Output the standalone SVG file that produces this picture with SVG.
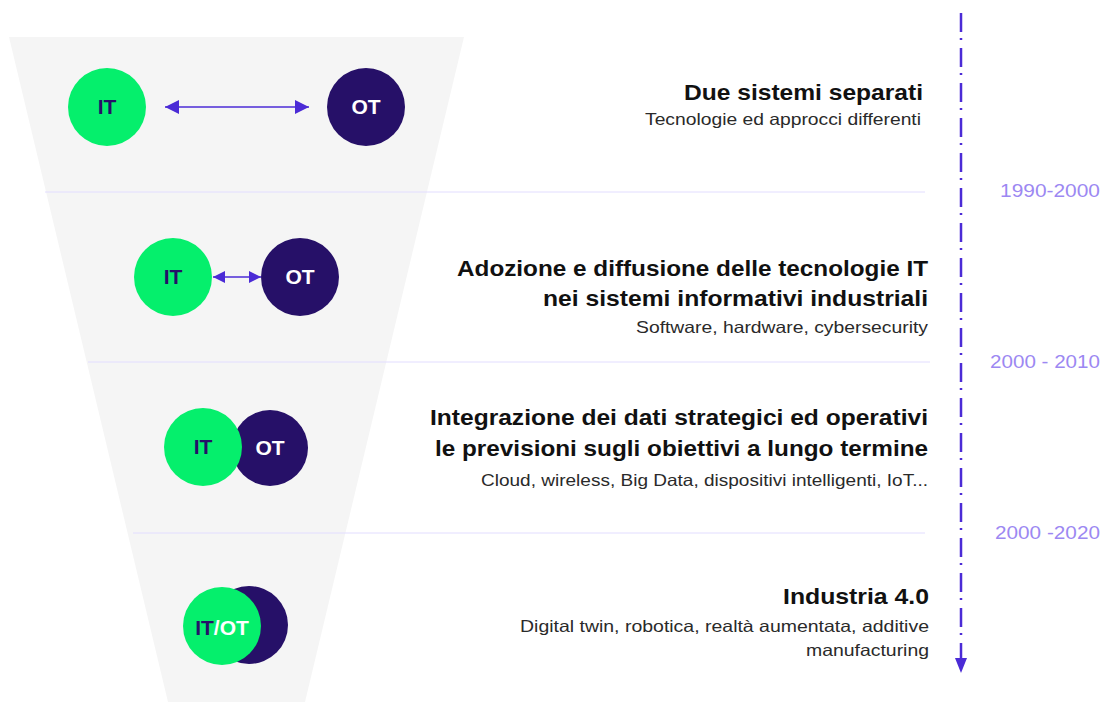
<svg xmlns="http://www.w3.org/2000/svg" width="1107" height="702" viewBox="0 0 1107 702">
  <style>
    .funnel { fill: #f5f5f5; }
    .sep { stroke: #e2ddff; stroke-width: 1; }
    .it { fill: #05ef6c; }
    .ot { fill: #261068; }
    .lbl { font-family: "Liberation Sans", Arial, sans-serif; font-weight: bold; font-size: 21px; text-anchor: middle; }
    .lbl-it { fill: #261068; }
    .lbl-ot { fill: #ffffff; }
    .title { font-family: "Liberation Sans", Arial, sans-serif; font-weight: bold; font-size: 22px; fill: #111111; text-anchor: end; }
    .sub { font-family: "Liberation Sans", Arial, sans-serif; font-size: 16.5px; fill: #2a2a2a; text-anchor: end; }
    .year { font-family: "Liberation Sans", Arial, sans-serif; font-size: 18px; fill: #9c88f2; }
    .link { stroke: #4b2bd6; stroke-width: 1.6; fill: none; }
    .timeline { stroke: #4b2bd6; stroke-width: 2.5; fill: none; stroke-dasharray: 19 6 2 8; }
  </style>
  <defs>
    <marker id="arrow" viewBox="0 0 10 10" refX="10" refY="5" markerWidth="12" markerHeight="12" markerUnits="userSpaceOnUse" orient="auto-start-reverse">
      <path d="M0,0 L10,5 L0,10 Z" fill="#4b2bd6"/>
    </marker>
    <marker id="arrow-lg" viewBox="0 0 10 10" refX="10" refY="5" markerWidth="14" markerHeight="14" markerUnits="userSpaceOnUse" orient="auto-start-reverse">
      <path d="M0,0 L10,5 L0,10 Z" fill="#4b2bd6"/>
    </marker>
  </defs>

  <!-- funnel background -->
  <polygon class="funnel" points="9,37 464,37 305,702 168,702"/>

  <!-- stage separators -->
  <line class="sep" x1="45" y1="192" x2="925" y2="192"/>
  <line class="sep" x1="88" y1="362" x2="930" y2="362"/>
  <line class="sep" x1="133" y1="533" x2="925" y2="533"/>

  <!-- connectors -->
  <g id="connectors">
    <line class="link" x1="165" y1="107" x2="309" y2="107" marker-start="url(#arrow-lg)" marker-end="url(#arrow-lg)"/>
    <line class="link" x1="213" y1="277" x2="261" y2="277" marker-start="url(#arrow)" marker-end="url(#arrow)"/>
    <line class="timeline" x1="961" y1="13" x2="961" y2="662"/>
    <path d="M955,658 L967,658 L961,673 Z" fill="#4b2bd6"/>
  </g>

  <!-- stage 1 -->
  <g id="stage1-it">
    <circle class="it" cx="107" cy="107" r="39"/>
    <text class="lbl lbl-it" x="107" y="114">IT</text>
  </g>
  <g id="stage1-ot">
    <circle class="ot" cx="366" cy="107" r="39"/>
    <text class="lbl lbl-ot" x="366" y="114">OT</text>
  </g>
  <g id="stage1-text">
    <text class="title" x="923" y="100" textLength="239" lengthAdjust="spacingAndGlyphs">Due sistemi separati</text>
    <text class="sub" x="921" y="125" textLength="276" lengthAdjust="spacingAndGlyphs">Tecnologie ed approcci differenti</text>
  </g>

  <!-- stage 2 -->
  <g id="stage2-it">
    <circle class="it" cx="173" cy="277" r="39"/>
    <text class="lbl lbl-it" x="173" y="284">IT</text>
  </g>
  <g id="stage2-ot">
    <circle class="ot" cx="300" cy="277" r="39"/>
    <text class="lbl lbl-ot" x="300" y="284">OT</text>
  </g>
  <g id="stage2-text">
    <text class="title" x="928" y="276" textLength="471" lengthAdjust="spacingAndGlyphs">Adozione e diffusione delle tecnologie IT</text>
    <text class="title" x="928" y="306" textLength="385" lengthAdjust="spacingAndGlyphs">nei sistemi informativi industriali</text>
    <text class="sub" x="928" y="333" textLength="292" lengthAdjust="spacingAndGlyphs">Software, hardware, cybersecurity</text>
  </g>

  <!-- stage 3 -->
  <g id="stage3-ot">
    <circle class="ot" cx="270" cy="448" r="38"/>
    <text class="lbl lbl-ot" x="270" y="455">OT</text>
  </g>
  <g id="stage3-it">
    <circle class="it" cx="203" cy="447" r="39"/>
    <text class="lbl lbl-it" x="203" y="454">IT</text>
  </g>
  <g id="stage3-text">
    <text class="title" x="928" y="425" textLength="498" lengthAdjust="spacingAndGlyphs">Integrazione dei dati strategici ed operativi</text>
    <text class="title" x="928" y="456" textLength="493" lengthAdjust="spacingAndGlyphs">le previsioni sugli obiettivi a lungo termine</text>
    <text class="sub" x="928" y="486" textLength="447" lengthAdjust="spacingAndGlyphs">Cloud, wireless, Big Data, dispositivi intelligenti, IoT...</text>
  </g>

  <!-- stage 4 -->
  <g id="stage4-itot">
    <circle class="ot" cx="249" cy="625" r="39"/>
    <circle class="it" cx="222" cy="626" r="39"/>
    <text class="lbl" x="222" y="635"><tspan class="lbl-it">IT</tspan><tspan class="lbl-ot">/OT</tspan></text>
  </g>
  <g id="stage4-text">
    <text class="title" x="929" y="604" textLength="146" lengthAdjust="spacingAndGlyphs">Industria 4.0</text>
    <text class="sub" x="929" y="632" textLength="409" lengthAdjust="spacingAndGlyphs">Digital twin, robotica, realtà aumentata, additive</text>
    <text class="sub" x="929" y="656" textLength="123" lengthAdjust="spacingAndGlyphs">manufacturing</text>
  </g>

  <!-- timeline periods -->
  <g id="periods">
    <text class="year" x="1000" y="197" textLength="100" lengthAdjust="spacingAndGlyphs">1990-2000</text>
    <text class="year" x="990" y="368" textLength="110" lengthAdjust="spacingAndGlyphs">2000 - 2010</text>
    <text class="year" x="995" y="539" textLength="105" lengthAdjust="spacingAndGlyphs">2000 -2020</text>
  </g>
</svg>
